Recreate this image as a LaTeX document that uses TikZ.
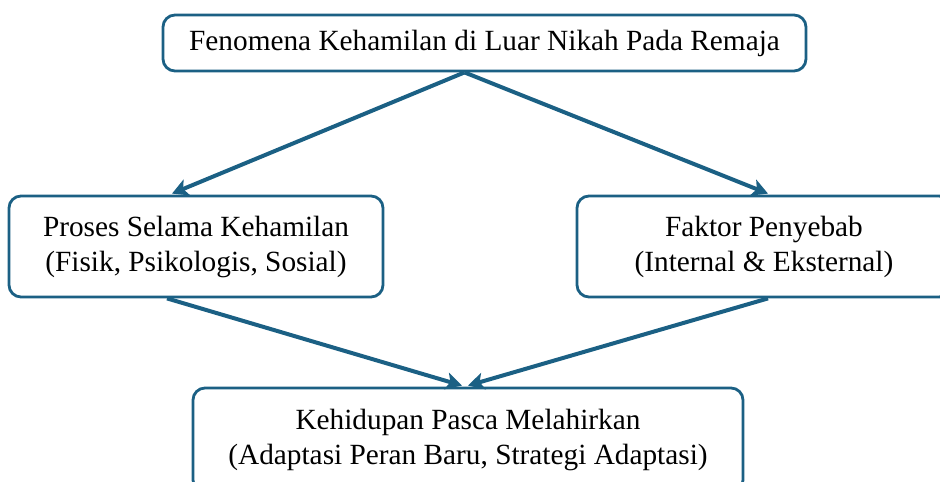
\documentclass[tikz,border=0pt]{standalone}
\usepackage{fontspec}
\setmainfont{Liberation Serif}
\usetikzlibrary{arrows.meta}
\definecolor{alurbiru}{RGB}{27,96,132}

\tikzset{
  kotak/.style={draw=alurbiru, line width=2.8, rounded corners=12, fill=white,
    align=center, inner sep=0, font=\fontsize{29.3}{35}\selectfont},
  panah/.style={draw=alurbiru, line width=4, -{Stealth[length=16,width=17,inset=4]}}
}

\begin{document}
\begin{tikzpicture}[x=1pt,y=1pt,yscale=-1,xscale=1]
\useasboundingbox (0,0) rectangle (940,482);

%Boxes
\node [kotak, minimum width=643, minimum height=56] (fenomena) at (484.5,43) {Fenomena Kehamilan di Luar Nikah Pada Remaja};
\node [kotak, minimum width=374, minimum height=101] (proses) at (196,246.5) {Proses Selama Kehamilan\\(Fisik, Psikologis, Sosial)};
\node [kotak, minimum width=374, minimum height=101] (faktor) at (764,246.5) {Faktor Penyebab\\(Internal \& Eksternal)};
\node [kotak, minimum width=550, minimum height=104] (pasca) at (468,440) {Kehidupan Pasca Melahirkan\\(Adaptasi Peran Baru, Strategi Adaptasi)};

%Arrows
\draw [panah] ([xshift=-20]fenomena.south) -- ([xshift=-24,yshift=-1]proses.north);
\draw [panah] ([xshift=-20]fenomena.south) -- ([xshift=4,yshift=-1]faktor.north);
\draw [panah] ([xshift=-29]proses.south) -- ([xshift=-6,yshift=-1]pasca.north);
\draw [panah] ([xshift=4]faktor.south) -- ([xshift=0,yshift=-1]pasca.north);

\end{tikzpicture}
\end{document}
